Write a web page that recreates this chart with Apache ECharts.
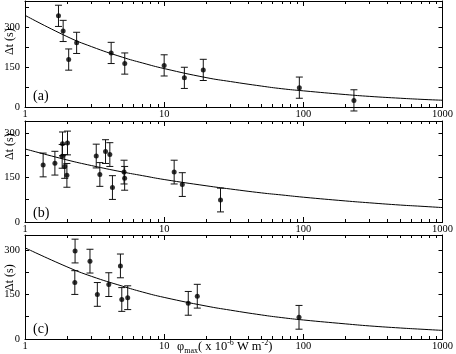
<!DOCTYPE html>
<html><head><meta charset="utf-8">
<script src="https://cdn.jsdelivr.net/npm/echarts@6/dist/echarts.min.js"></script>
<style>html,body{margin:0;padding:0;background:#fff}#c{width:456px;height:354px}</style>
</head><body><div id="c"></div>
<script>
// ---------- data ----------
const xTickLabels = [1, 10, 100, 1000];
const xMinorTicks = [2,3,4,5,6,7,8,9,20,30,40,50,60,70,80,90,200,300,400,500,600,700,800,900];
const yTickLabels = [0, 150, 300];
const yTicks = [0, 75, 150, 225, 300, 375];
const panelLabels = ['(a)', '(b)', '(c)'];
const yAxisTitle = 'Δt (s)';

// panel (a)
const aX   = [1.74, 1.88, 2.06, 2.35, 4.16, 5.21, 10.0, 13.97, 19.1, 93.6, 231];
const aY   = [344, 287, 179, 242, 204, 164, 157, 110, 140, 73, 25];
const aErr = [40, 40, 40, 40, 40, 40, 40, 40, 40, 40, 40];
// panel (b)
const bX   = [1.35, 1.64, 1.85, 1.86, 1.93, 2.00, 2.02, 3.25, 3.45, 3.79, 4.07, 4.25, 5.15, 5.20, 11.8, 13.5, 25.4];
const bY   = [192, 198, 221, 263, 187, 157, 266, 222, 160, 237, 227, 116, 168, 147, 168, 126, 74];
const bErr = [40, 40, 40, 40, 40, 40, 40, 40, 40, 40, 40, 40, 40, 40, 40, 40, 40];
// panel (c)
const cX   = [2.28, 2.29, 2.93, 3.31, 4.00, 4.85, 4.96, 5.47, 14.9, 17.3, 93.1];
const cY   = [190, 296, 262, 150, 183, 246, 133, 139, 120, 144, 73];
const cErr = [40, 40, 40, 40, 40, 40, 40, 40, 40, 40, 40];

// fitted curves
const curveX = [1, 2, 3, 5, 7, 10, 20, 30, 50, 70, 100, 200, 300, 500, 700, 1000];
const aCurve = [346, 266, 228, 188, 166, 145, 111, 96, 79, 69, 61, 47, 40, 33, 29, 25.5];
const bCurve = [246, 209, 190, 168.5, 156, 143, 122, 111, 98, 91, 83.5, 71, 64.5, 57, 53, 48.5];
const cCurve = [307, 243, 211, 178, 158, 140, 111, 97, 81, 72, 64, 51, 44, 37, 33, 29];

// x-axis title
const xTitleParts = ['φ', 'max', '( x 10', '-6', ' W m', '-2', ')'];

// ---------- chart ----------
const panels = [
  {x: aX, y: aY, e: aErr, curve: aCurve},
  {x: bX, y: bY, e: bErr, curve: bCurve},
  {x: cX, y: cY, e: cErr, curve: cCurve}
];
const layout = [
  {top: 1, height: 106, max: 400, label: 96, title: 55},
  {top: 121, height: 101, max: 340, label: 213, title: 160},
  {top: 235, height: 104, max: 350, label: 329, title: 291}
];
const FONT = 'Liberation Serif';
const grids = [], xAxes = [], yAxes = [], series = [], graphics = [];

function xAx(g, pos, major) {
  return {
    type: 'log', logBase: 10, min: 1, max: 1000, gridIndex: g, position: pos,
    axisLine: {show: major, lineStyle: {color: '#000', width: 1}},
    axisTick: {show: true, inside: true, length: major ? 5 : 3,
      customValues: major ? xTickLabels : xMinorTicks, lineStyle: {color: '#000'}},
    axisLabel: {show: major && pos === 'bottom', customValues: xTickLabels,
      formatter: function (v) { return String(Math.round(v)); },
      fontFamily: FONT, fontSize: 10.5, color: '#000', margin: 2},
    splitLine: {show: false}
  };
}
function yAx(g, pos) {
  const mx = layout[g].max;
  return {
    type: 'value', min: 0, max: mx, gridIndex: g, position: pos,
    axisLine: {show: true, lineStyle: {color: '#000', width: 1}},
    axisTick: {show: true, inside: true, length: 4,
      customValues: yTicks.filter(v => v <= mx), lineStyle: {color: '#000'}},
    axisLabel: {show: pos === 'left', customValues: yTickLabels,
      formatter: function (v) { return String(Math.round(v)); },
      fontFamily: FONT, fontSize: 10.5, color: '#000', margin: 5},
    splitLine: {show: false}
  };
}

panels.forEach((p, g) => {
  const L = layout[g];
  grids.push({left: 25, width: 420, top: L.top, height: L.height});
  xAxes.push(xAx(g, 'bottom', true), xAx(g, 'bottom', false), xAx(g, 'top', true), xAx(g, 'top', false));
  yAxes.push(yAx(g, 'left'), yAx(g, 'right'));
  const xi = g * 4, yi = g * 2;
  series.push({
    type: 'line', xAxisIndex: xi, yAxisIndex: yi, smooth: true, symbol: 'none',
    lineStyle: {color: '#000', width: 1}, silent: true,
    data: curveX.map((x, i) => [x, p.curve[i]])
  });
  series.push({
    type: 'custom', xAxisIndex: xi, yAxisIndex: yi, clip: false, silent: true,
    encode: {x: 0, y: [1, 2]},
    data: p.x.map((x, i) => [x, p.y[i] - p.e[i], p.y[i] + p.e[i]]),
    renderItem: function (params, api) {
      const x = api.value(0);
      const hi = api.coord([x, api.value(2)]);
      const lo = api.coord([x, api.value(1)]);
      const hw = 3.5;
      const st = {stroke: '#111', lineWidth: 1};
      return {type: 'group', children: [
        {type: 'line', shape: {x1: hi[0], y1: hi[1], x2: lo[0], y2: lo[1]}, style: st},
        {type: 'line', shape: {x1: hi[0] - hw, y1: hi[1], x2: hi[0] + hw, y2: hi[1]}, style: st},
        {type: 'line', shape: {x1: lo[0] - hw, y1: lo[1], x2: lo[0] + hw, y2: lo[1]}, style: st}
      ]};
    }
  });
  series.push({
    type: 'scatter', xAxisIndex: xi, yAxisIndex: yi, symbol: 'circle', symbolSize: 5,
    itemStyle: {color: '#000'}, silent: true,
    data: p.x.map((x, i) => [x, p.y[i]])
  });
  graphics.push({type: 'text', x: 33, y: L.label, silent: true,
    style: {text: panelLabels[g], font: '14px "' + FONT + '"', fill: '#000',
      align: 'left', textAlign: 'left', verticalAlign: 'middle', textVerticalAlign: 'middle'}});
  graphics.push({type: 'text', x: 10, y: L.title, rotation: Math.PI / 2, silent: true,
    style: {text: yAxisTitle, font: '12px "' + FONT + '"', fill: '#000',
      align: 'left', textAlign: 'left', verticalAlign: 'middle', textVerticalAlign: 'middle'}});
});

graphics.push({type: 'text', x: 177, y: 347, silent: true,
  style: {
    text: '{a|' + xTitleParts[0] + '}{s|' + xTitleParts[1] + '}{a|' + xTitleParts[2] + '}{p|' + xTitleParts[3] + '}{a|' + xTitleParts[4] + '}{p|' + xTitleParts[5] + '}{a|' + xTitleParts[6] + '}',
    align: 'left', textAlign: 'left', verticalAlign: 'middle', textVerticalAlign: 'middle', fill: '#000',
    rich: {
      a: {fontFamily: FONT, fontSize: 12.5, fill: '#000', lineHeight: 16},
      s: {fontFamily: FONT, fontSize: 8, fill: '#000', lineHeight: 16, verticalAlign: 'bottom', padding: [5, 0, 0, 0]},
      p: {fontFamily: FONT, fontSize: 8, fill: '#000', lineHeight: 16, verticalAlign: 'top', padding: [0, 0, 5, 0]}
    }
  }});

const chart = echarts.init(document.getElementById('c'), null, {renderer: 'canvas'});
chart.setOption({
  animation: false,
  backgroundColor: '#fff',
  grid: grids, xAxis: xAxes, yAxis: yAxes, series: series, graphic: graphics
});
</script></body></html>
